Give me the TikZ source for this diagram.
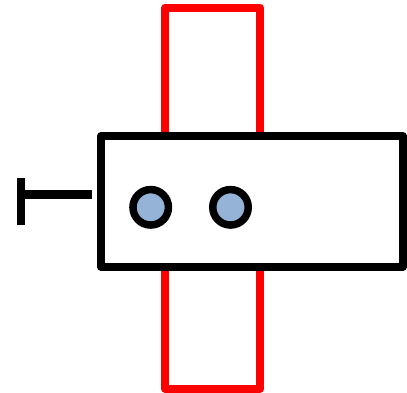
\documentclass[tikz,border=0pt]{standalone}
\definecolor{pinfill}{HTML}{95B3D7}
\definecolor{rail}{HTML}{FF0000}
\begin{document}
\begin{tikzpicture}[x=1pt,y=-1pt,
  railbox/.style={draw=rail,line width=8pt,line join=round},
  bodybox/.style={draw=black,fill=white,line width=8pt,line join=round},
  pin/.style={circle,draw=black,fill=pinfill,line width=7.5pt,minimum size=35.5pt,inner sep=0pt},
  stem/.style={draw=black,line width=8.5pt,line cap=butt}]
\useasboundingbox (0,0) rectangle (407,392);
\draw[railbox] (165,7.5) rectangle (260,388.5);
\draw[bodybox] (101,136) rectangle (403,267);
\node[pin] (p1) at (150.7,207.3) {};
\node[pin] (p2) at (230.5,207.3) {};
\coordinate (tend) at (91.5,194.5);
\coordinate (tjoin) at (21,194.5);
\coordinate (ttop) at (21,178);
\coordinate (tbot) at (21,225);
\draw[stem] (tjoin) -- (tend);
\draw[stem,line width=8pt] (ttop) -- (tbot);
\end{tikzpicture}
\end{document}
